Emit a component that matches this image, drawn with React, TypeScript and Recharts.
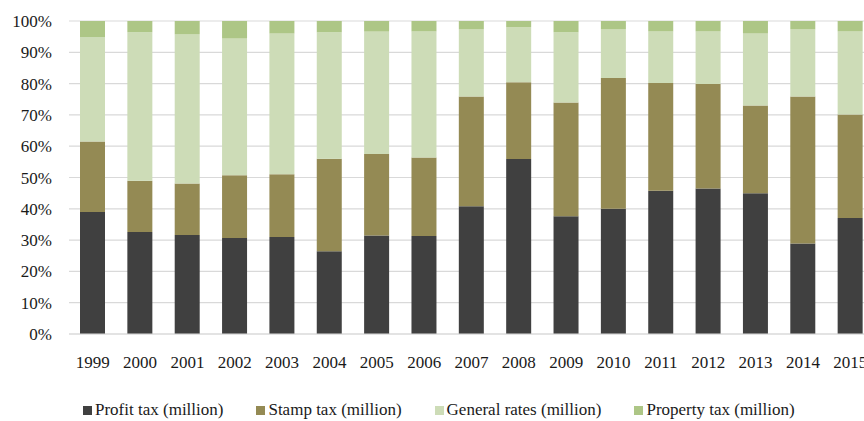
import React from "react";
import { BarChart, Bar, XAxis, YAxis, CartesianGrid, Legend } from "recharts";

const years = ["1999", "2000", "2001", "2002", "2003", "2004", "2005", "2006", "2007", "2008", "2009", "2010", "2011", "2012", "2013", "2014", "2015"];
const profitTax = [39.0, 32.6, 31.6, 30.7, 31.0, 26.4, 31.5, 31.3, 40.8, 55.9, 37.6, 40.0, 45.8, 46.5, 45.0, 28.9, 37.1];
const stampTax = [22.5, 16.4, 16.5, 20.0, 20.0, 29.6, 26.0, 25.1, 35.1, 24.5, 36.4, 41.8, 34.4, 33.4, 28.0, 47.0, 33.0];
const generalRates = [33.3, 47.4, 47.6, 43.7, 45.0, 40.4, 39.1, 40.3, 21.4, 17.6, 22.4, 15.5, 16.5, 16.8, 23.0, 21.4, 26.6];
const propertyTax = [5.2, 3.6, 4.3, 5.6, 4.0, 3.6, 3.4, 3.3, 2.7, 2.0, 3.6, 2.7, 3.3, 3.3, 4.0, 2.7, 3.3];
const yTicks = [0, 0.1, 0.2, 0.3, 0.4, 0.5, 0.6, 0.7, 0.8, 0.9, 1];

const series = [
  { key: "profit", name: "Profit tax (million)", color: "#404040" },
  { key: "stamp", name: "Stamp tax (million)", color: "#948A54" },
  { key: "general", name: "General rates (million)", color: "#CDDCB7" },
  { key: "property", name: "Property tax (million)", color: "#ADC686" },
];

const data = years.map((y, i) => ({
  year: y,
  profit: profitTax[i],
  stamp: stampTax[i],
  general: generalRates[i],
  property: propertyTax[i],
}));

const FONT = "Liberation Serif, Times New Roman, Times, DejaVu Serif, serif";

function LegendContent() {
  return (
    <div style={{ display: "flex", alignItems: "center", paddingLeft: 83, fontFamily: FONT, fontSize: 17, color: "#1a1a1a", whiteSpace: "nowrap" }}>
      {series.map((s) => (
        <div key={s.key} style={{ display: "flex", alignItems: "center", marginRight: 33 }}>
          <span style={{ display: "inline-block", width: 9, height: 9, background: s.color, marginRight: 3 }} />
          <span>{s.name}</span>
        </div>
      ))}
    </div>
  );
}

export default function App() {
  return (
    <div style={{ position: "fixed", left: 0, top: 0, width: 864, height: 421, overflow: "hidden", background: "#fff" }}>
      <BarChart
        width={874}
        height={421}
        data={data}
        stackOffset="expand"
        margin={{ top: 21, right: 0, left: 0, bottom: 0 }}
        barSize={25}
      >
        <CartesianGrid vertical={false} stroke="#d9d9d9" strokeWidth={1.2} />
        <XAxis
          dataKey="year"
          axisLine={{ stroke: "#d9d9d9", strokeWidth: 1.2 }}
          tickLine={false}
          tickSize={0}
          tickMargin={22}
          height={67}
          interval={0}
          tick={{ fill: "#1a1a1a", fontSize: 17, fontFamily: FONT }}
        />
        <YAxis
          width={69}
          ticks={yTicks}
          domain={[0, 1]}
          axisLine={false}
          tickLine={false}
          tickSize={0}
          tickMargin={17}
          tickFormatter={(v: number) => `${Math.round(v * 100)}%`}
          tick={{ fill: "#1a1a1a", fontSize: 17, fontFamily: FONT }}
        />
        <Legend content={<LegendContent />} wrapperStyle={{ left: 0, top: 400, width: 874 }} />
        {series.map((s) => (
          <Bar key={s.key} dataKey={s.key} name={s.name} stackId="a" fill={s.color} isAnimationActive={false} />
        ))}
      </BarChart>
    </div>
  );
}
